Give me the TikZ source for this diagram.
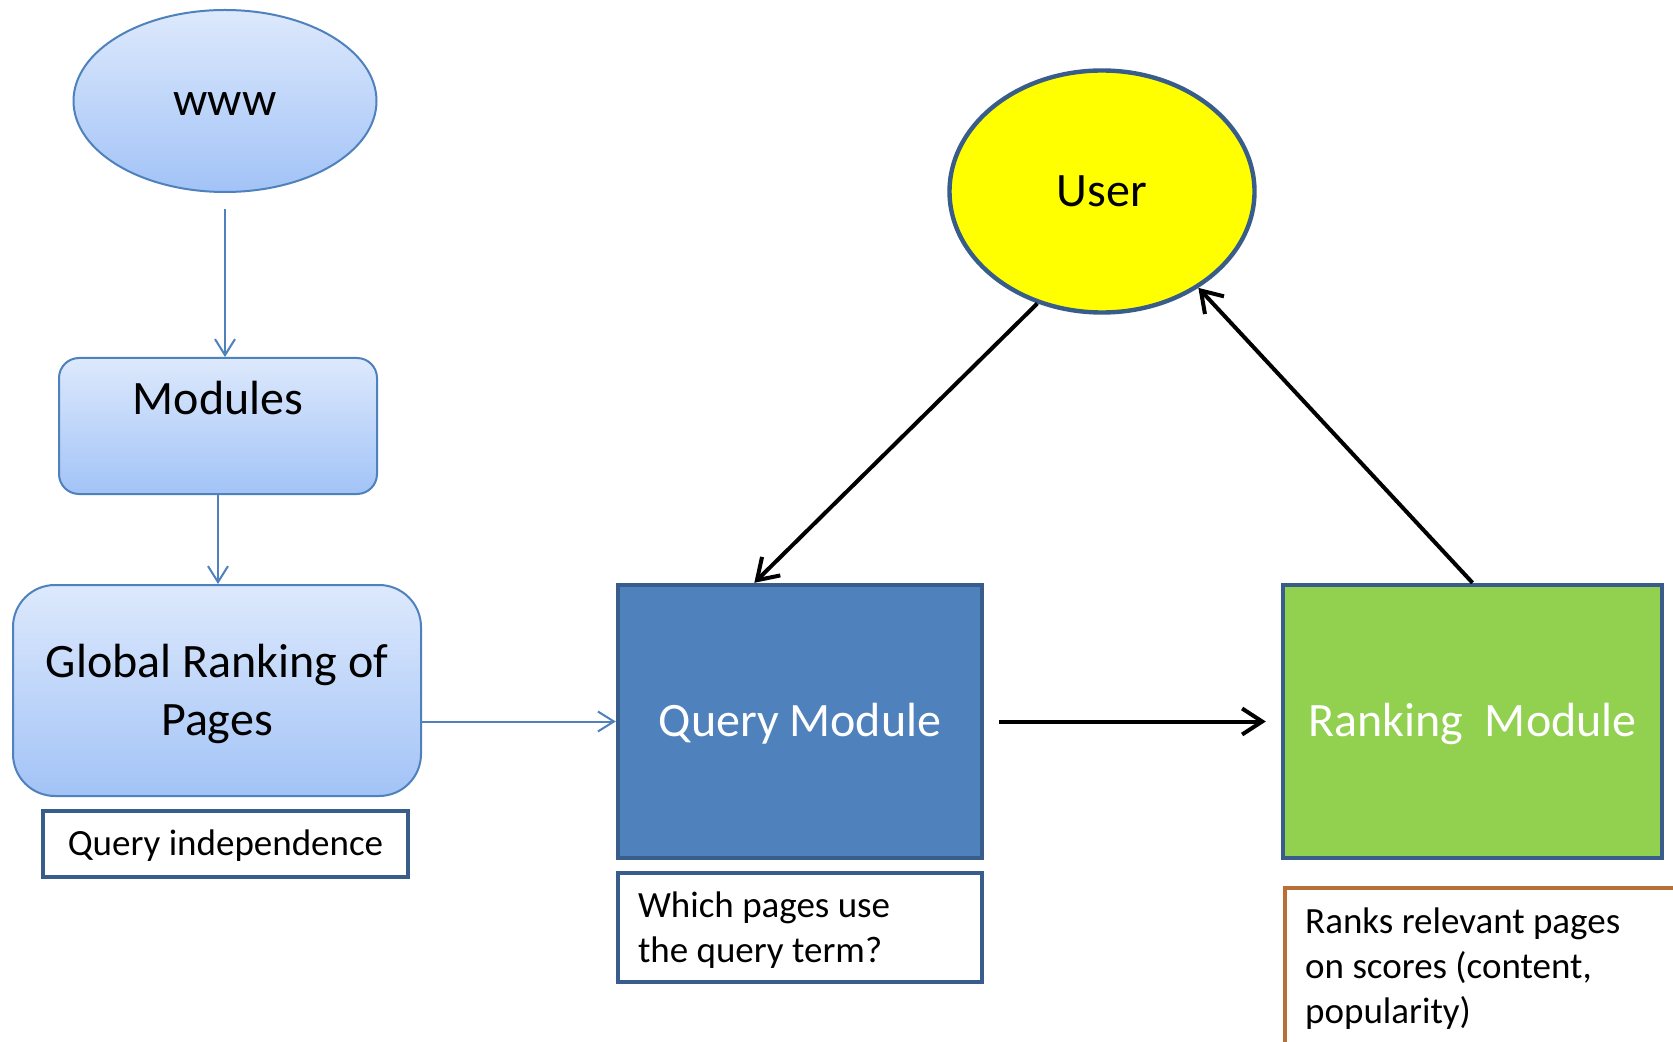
\documentclass[tikz,border=0pt]{standalone}
\usepackage{fontspec}
\setmainfont{Carlito}
\usetikzlibrary{arrows.meta,calc,shapes.geometric}

\definecolor{paleTop}{RGB}{221,233,252}
\definecolor{paleBot}{RGB}{162,195,247}
\definecolor{accBlue}{RGB}{79,129,189}
\definecolor{darkBlue}{RGB}{56,93,138}
\definecolor{leaf}{RGB}{146,208,80}
\definecolor{rust}{RGB}{184,112,56}
\definecolor{sun}{RGB}{255,255,0}

% note text: fixed interword space, no stretching
\newcommand\notetype{\fontsize{18.5}{22.5}\selectfont\spaceskip=\fontdimen2\font\relax}

\tikzset{
  softshape/.style={draw=accBlue, line width=1pt, top color=paleTop, bottom color=paleBot},
  big/.style={font=\fontsize{24}{29}\selectfont},
  small/.style={font=\notetype},
  % centre the text on its capitals rather than on ascender + descender
  capcentre/.style={text depth=1pt},
  noteframe/.style={draw=darkBlue, line width=2.4pt, fill=white, small},
  modulebox/.style={draw=darkBlue, line width=2.2pt, text=white, big,
    minimum height=136.5pt, text height=16pt, capcentre},
  thinflow/.style={draw=accBlue, line width=1pt, -{Straight Barb[length=8pt,width=10pt]}},
  boldflow/.style={draw=black, line width=2pt, -{Straight Barb[length=10pt,width=13pt]}},
}

\begin{document}
\begin{tikzpicture}[x=0.5pt,y=-0.5pt]
\clip (0,0) rectangle (1673,1042);
\fill[white] (0,0) rectangle (1673,1042);

% left column: source, modules, global ranking
\node[softshape, ellipse, minimum width=151.5pt, minimum height=91pt, big,
      text height=16pt, capcentre] (www) at (225,101) {www};
\node[softshape, rounded corners=10pt, minimum width=159pt, minimum height=68pt,
      label={[big,yshift=14pt]center:Modules}] (mod) at (218,426) {};
\node[softshape, rounded corners=21pt, minimum width=204pt, minimum height=105.5pt,
      big, align=center, capcentre] (glob) at (217,690.5) {Global Ranking of\\Pages};
\node[noteframe, minimum width=182.5pt, minimum height=33pt, capcentre] (qind) at (225.5,844) {Query independence};

% query side
\node[modulebox, fill=accBlue, minimum width=182pt] (qm) at (800,721.5) {Query Module};
\node[noteframe, minimum width=182pt, minimum height=54.5pt,
      label={[small, text width=162pt, align=flush left, yshift=-1.5pt]center:{Which pages use\\the query term?}}]
      (which) at (800,927.5) {};

% ranking side
\node[modulebox, fill=leaf, minimum width=189.5pt] (rm) at (1472.5,721.5) {Ranking\ \ Module};
\node[draw=rust, line width=2.2pt, fill=white, small, anchor=north west, text width=200pt,
      inner xsep=10pt, inner ysep=10pt, align=flush left]
      (ranks) at (1283,886) {Ranks relevant pages\\on scores (content,\\popularity)};

% user
\node[ellipse, draw=darkBlue, line width=2.2pt, fill=sun, big, text height=16pt, capcentre,
      minimum width=152.5pt, minimum height=121pt] (user) at (1102,191.5) {User};

% connectors
\draw[thinflow, shorten <=8pt] (www.south) -- (www.south |- mod.north);
\draw[thinflow] (mod.south) -- (mod.south |- glob.north);
\draw[thinflow] (glob.east |- qm.west) -- (qm.west);
\draw[boldflow, shorten <=7.5pt, shorten >=7.5pt] (qm.east) -- (rm.west);
\draw[boldflow] (user.240) -- ($(qm.north west)!0.376!(qm.north east)$);
\draw[boldflow] (rm.north) -- (user.315);
\end{tikzpicture}
\end{document}
